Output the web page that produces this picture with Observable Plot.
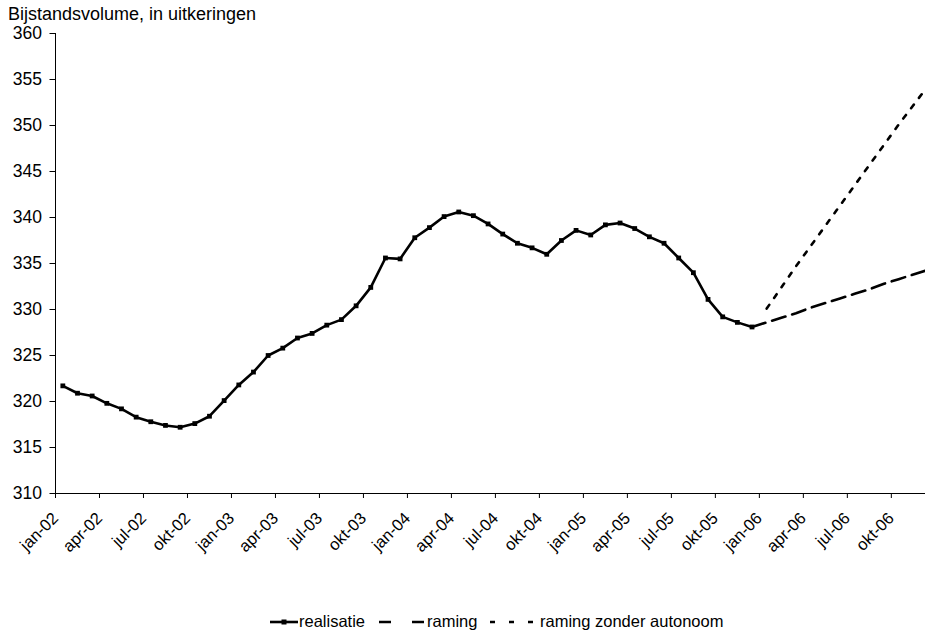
<!DOCTYPE html>
<html><head><meta charset="utf-8">
<script src="https://cdn.jsdelivr.net/npm/d3@7"></script>
<script src="https://cdn.jsdelivr.net/npm/@observablehq/plot@0.6"></script>
<style>
html,body{margin:0;padding:0;background:#fff;overflow:hidden}
body{font-family:"Liberation Sans",Arial,sans-serif;color:#000;width:925px;height:631px;position:relative}
#title{position:absolute;left:8px;top:6px;font-size:18px;line-height:17px;white-space:nowrap;z-index:2}
#chart{position:absolute;left:0;top:15px;z-index:1}
#legend{position:absolute;left:0;top:560px}
</style></head><body>
<div id="title">Bijstandsvolume, in uitkeringen</div>
<div id="chart"></div>
<div id="legend"></div>
<script>
// Tick labels (every 3 months, jan-02 .. okt-06)
const tickLabels = ["jan-02","apr-02","jul-02","okt-02","jan-03","apr-03","jul-03","okt-03",
  "jan-04","apr-04","jul-04","okt-04","jan-05","apr-05","jul-05","okt-05",
  "jan-06","apr-06","jul-06","okt-06"];
// month index 0 = jan-02
const realisatieStart = 0;   // jan-02
const realisatie = [
  321.7, 320.9, 320.6, 319.8, 319.2, 318.3, 317.8, 317.4, 317.2, 317.6, 318.4, 320.1,
  321.8, 323.2, 325.0, 325.8, 326.9, 327.4, 328.3, 328.9, 330.4, 332.4, 335.6, 335.5,
  337.8, 338.9, 340.1, 340.6, 340.2, 339.3, 338.2, 337.2, 336.7, 336.0, 337.5, 338.6,
  338.1, 339.2, 339.4, 338.8, 337.9, 337.2, 335.6, 334.0, 331.1, 329.2, 328.6, 328.1
];
const ramingStart = 47;      // dec-05
const raming = [328.1, 328.6, 329.1, 329.6, 330.2, 330.7, 331.2, 331.7, 332.2, 332.8, 333.3, 333.8, 334.3];
const zonderStart = 48;      // jan-06
const ramingZonder = [330.1, 332.4, 334.7, 336.9, 339.1, 341.3, 343.5, 345.7, 347.9, 350.1, 352.2, 354.3];
const yTicks = [310, 315, 320, 325, 330, 335, 340, 345, 350, 355, 360];

const toRows = (arr, start) => arr.map((v, k) => ({i: start + k, v}));
const realRows = toRows(realisatie, realisatieStart);
const ramRows = toRows(raming, ramingStart);
const zonRows = toRows(ramingZonder, zonderStart);
const tickPos = tickLabels.map((_, k) => k * 3 - 0.5);

const chart = Plot.plot({
  width: 925, height: 545,
  marginLeft: 55, marginRight: 0, marginTop: 18, marginBottom: 67,
  style: {fontFamily: "Liberation Sans, Arial, sans-serif", fontSize: "16px", color: "#000", background: "none"},
  x: {type: "linear", domain: [-0.5, 58.83]},
  y: {domain: [310, 360]},
  marks: [
    Plot.axisY({ticks: yTicks, tickSize: 5.5, tickPadding: 8, fontSize: 17.5, tickFormat: d => String(d), label: null}),
    Plot.axisX({ticks: tickPos, tickFormat: d => tickLabels[Math.round((d + 0.5) / 3)], tickRotate: -45,
      tickSize: 5, tickPadding: 17, fontSize: 16.5, label: null}),
    Plot.ruleX([-0.5], {stroke: "#000"}),
    Plot.ruleY([310], {stroke: "#000"}),
    Plot.line(realRows, {x: "i", y: "v", stroke: "#000", strokeWidth: 2.6}),
    Plot.dot(realRows, {x: "i", y: "v", symbol: "square", r: 2.7, fill: "#000", stroke: "none"}),
    Plot.line(ramRows, {x: "i", y: "v", stroke: "#000", strokeWidth: 2.6, strokeDasharray: "14,7"}),
    Plot.line(zonRows, {x: "i", y: "v", stroke: "#000", strokeWidth: 2.6, strokeDasharray: "4.5,8.5"})
  ]
});
document.getElementById("chart").appendChild(chart);

// Legend
const lg = d3.select("#legend").append("svg").attr("width", 925).attr("height", 71)
  .style("font-family", "Liberation Sans, Arial, sans-serif").style("font-size", "16.5px");
const ly = 62;
lg.append("line").attr("x1", 270).attr("x2", 298).attr("y1", ly).attr("y2", ly).attr("stroke", "#000").attr("stroke-width", 2.6);
lg.append("rect").attr("x", 281.5).attr("y", ly - 2.5).attr("width", 5).attr("height", 5).attr("fill", "#000");
lg.append("text").attr("x", 299).attr("y", ly + 5).text("realisatie");
lg.append("line").attr("x1", 379).attr("x2", 424).attr("y1", ly).attr("y2", ly).attr("stroke", "#000").attr("stroke-width", 2.6).attr("stroke-dasharray", "12,21");
lg.append("text").attr("x", 427).attr("y", ly + 5).text("raming");
lg.append("line").attr("x1", 490).attr("x2", 534).attr("y1", ly).attr("y2", ly).attr("stroke", "#000").attr("stroke-width", 2.6).attr("stroke-dasharray", "5,14");
lg.append("text").attr("x", 540).attr("y", ly + 5).text("raming zonder autonoom");
</script>
</body></html>
